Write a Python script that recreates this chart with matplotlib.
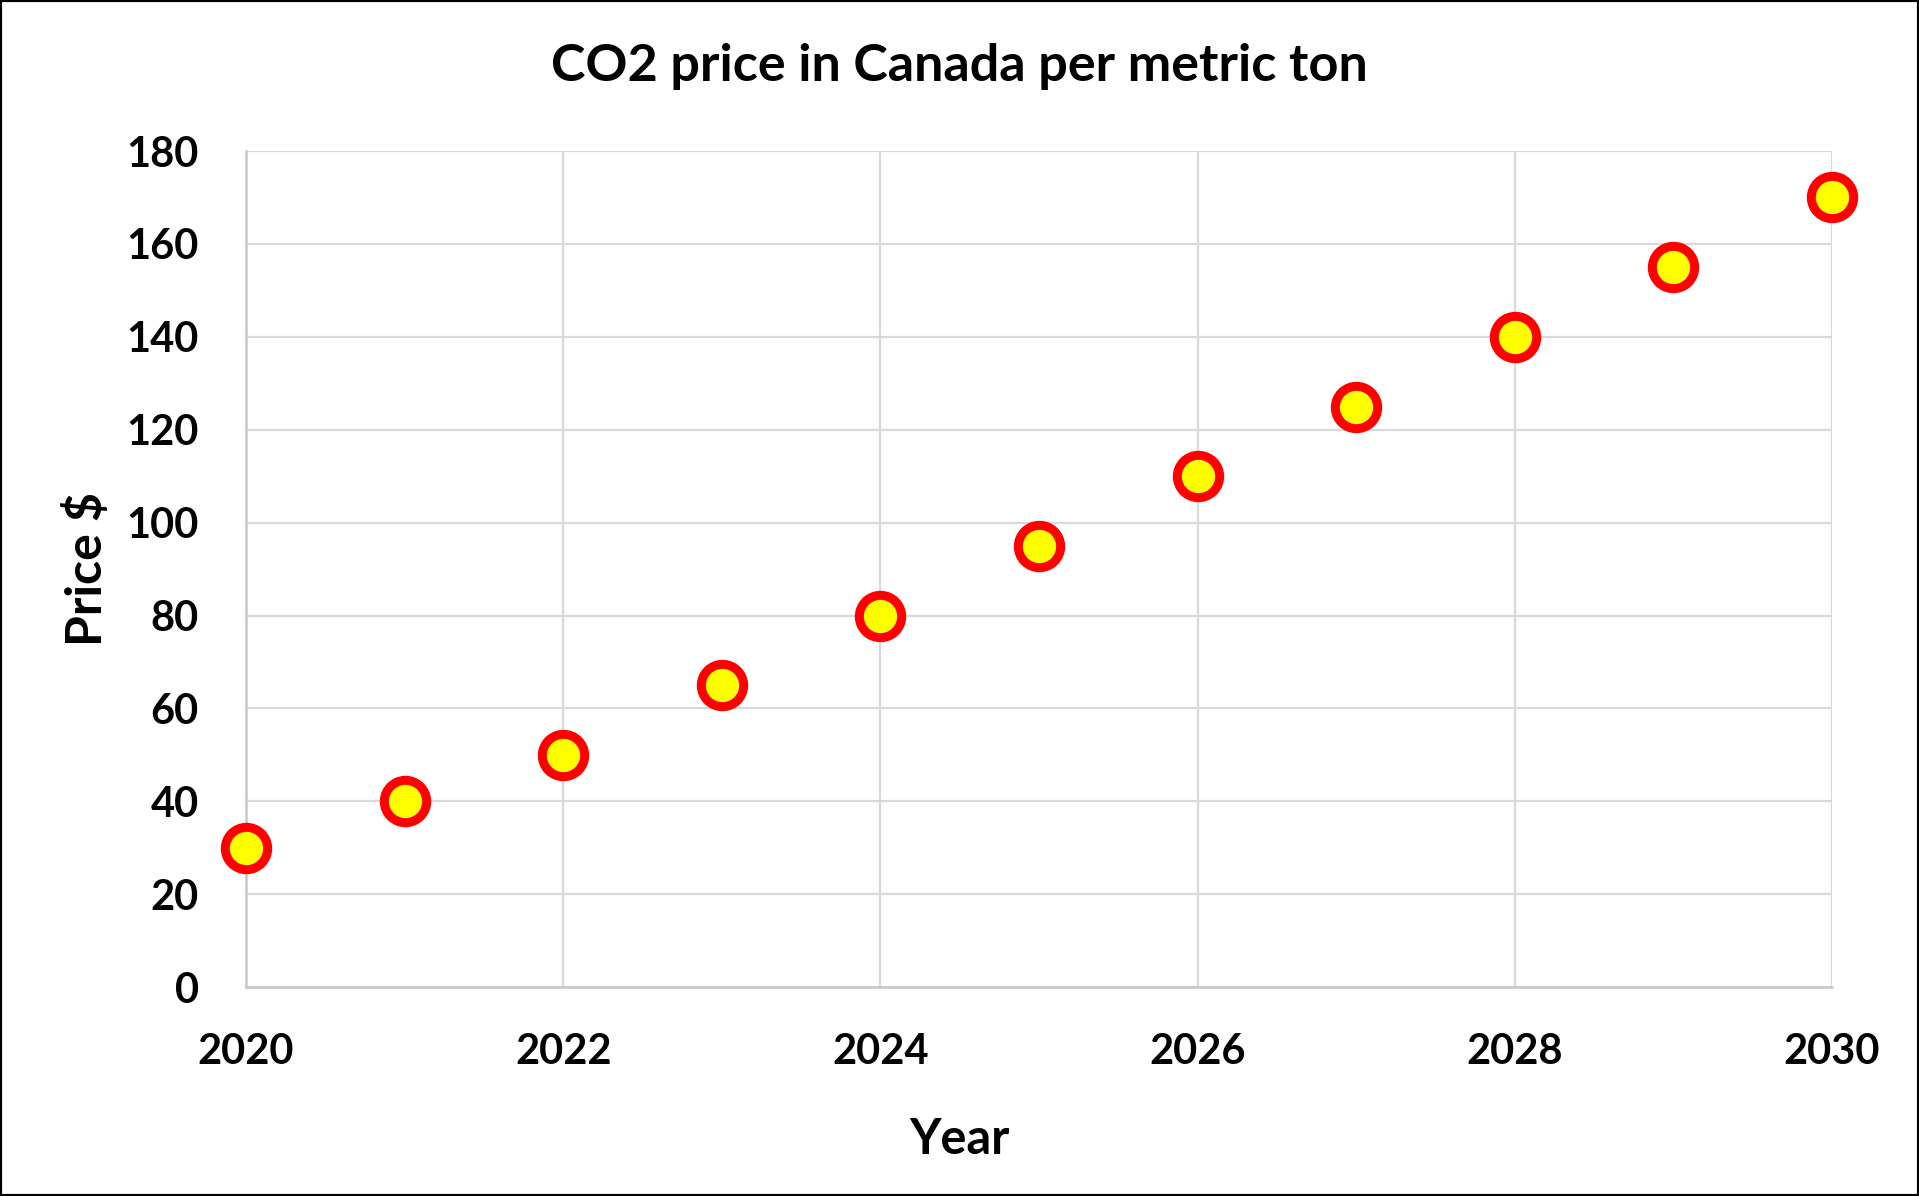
import numpy as np
import matplotlib.pyplot as plt
from matplotlib.patches import Rectangle

plt.rcParams['font.family'] = ['Lato', 'DejaVu Sans']
plt.rcParams['font.weight'] = 'bold'

years = [2020, 2021, 2022, 2023, 2024, 2025, 2026, 2027, 2028, 2029, 2030]
price = [30, 40, 50, 65, 80, 95, 110, 125, 140, 155, 170]
xticks = [2020, 2022, 2024, 2026, 2028, 2030]
yticks = [0, 20, 40, 60, 80, 100, 120, 140, 160, 180]

fig = plt.figure(figsize=(19.19, 11.96), dpi=100)
ax = fig.add_axes([0.1282, 0.1747, 0.8265, 0.6990])

ax.plot(years, price, 'o', ms=30.5, mfc='#ffff00', mec='#ff0000', mew=6.5,
        clip_on=False, zorder=5)

ax.set_xlim(2020, 2030)
ax.set_ylim(0, 180)
ax.set_xticks(xticks)
ax.set_yticks(yticks)
ax.grid(True, color='#d9d9d9', lw=1.6)
ax.set_axisbelow(True)
for s in ['top', 'right']:
    ax.spines[s].set_visible(False)
for s in ['left', 'bottom']:
    ax.spines[s].set_color('#c8c8c8')
    ax.spines[s].set_linewidth(1.8)
ax.tick_params(length=0, labelsize=30, pad=0)
ax.tick_params(axis='y', pad=34)
ax.tick_params(axis='x', pad=33)
for lab in ax.get_xticklabels() + ax.get_yticklabels():
    lab.set_fontweight('bold')

ax.set_ylabel('Price $', fontsize=36, fontweight='bold', labelpad=12)
# x label and title sit centred on the whole figure, not the axes
fig.text(0.5, 1 - 1140 / 1196, 'Year', fontsize=35, fontweight='bold',
         ha='center', va='center')
fig.text(0.5, 0.944, 'CO2 price in Canada per metric ton', fontsize=37.5,
         fontweight='bold', ha='center', va='center')

fig.patches.append(Rectangle((0, 0), 1, 1, transform=fig.transFigure,
                             fill=False, ec='black', lw=3))

fig.savefig('out.png', dpi=100)
